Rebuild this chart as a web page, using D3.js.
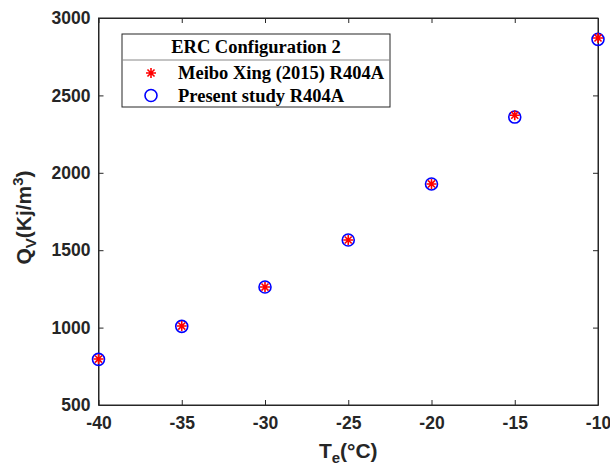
<!DOCTYPE html>
<html>
<head>
<meta charset="utf-8">
<script src="https://cdn.jsdelivr.net/npm/d3@7"></script>
<style>
  html, body { margin: 0; padding: 0; background: #fff; }
  svg { display: block; }
  .tick text { font-family: "Liberation Sans", Arial, sans-serif; font-weight: bold; font-size: 17.5px; fill: #262626; }
</style>
</head>
<body>
<div id="chart"></div>
<script>
// Evaporator temperature (°C)
const temps = [-40, -35, -30, -25, -20, -15, -10];
// Volumetric capacity, Meibo Xing (2015) R404A
const meiboQv = [797, 1010, 1262, 1566, 1928, 2372, 2871];
// Volumetric capacity, present study R404A
const presentQv = [795, 1008, 1262, 1566, 1928, 2360, 2862];

const xTicks = [-40, -35, -30, -25, -20, -15, -10];
const yTicks = [500, 1000, 1500, 2000, 2500, 3000];

const width = 610, height = 465;
const margin = { top: 18, right: 12, bottom: 60, left: 98.5 };
const innerW = width - margin.left - margin.right;
const innerH = height - margin.top - margin.bottom;

const svg = d3.select("#chart").append("svg")
    .attr("width", width)
    .attr("height", height);

const g = svg.append("g")
    .attr("transform", `translate(${margin.left},${margin.top})`);

const x = d3.scaleLinear().domain([-40, -10]).range([0, innerW]);
const y = d3.scaleLinear().domain([500, 3000]).range([innerH, 0]);

const axisColor = "#262626";
const fmt = d => String(d);   // plain hyphen minus, no thousands separator

// bottom and left axes with inward ticks
const xAxis = g.append("g")
    .attr("transform", `translate(0,${innerH})`)
    .call(d3.axisBottom(x).tickValues(xTicks).tickFormat(fmt).tickSizeInner(-5).tickSizeOuter(0).tickPadding(12));
const yAxis = g.append("g")
    .call(d3.axisLeft(y).tickValues(yTicks).tickFormat(fmt).tickSizeInner(-5).tickSizeOuter(0).tickPadding(8));
// top and right mirrored ticks
const xTop = g.append("g")
    .call(d3.axisTop(x).tickValues(xTicks).tickSizeInner(-5).tickSizeOuter(0).tickFormat(""));
const yRight = g.append("g")
    .attr("transform", `translate(${innerW},0)`)
    .call(d3.axisRight(y).tickValues(yTicks).tickSizeInner(-5).tickSizeOuter(0).tickFormat(""));

[xAxis, yAxis, xTop, yRight].forEach(a => {
    a.selectAll("path, line").attr("stroke", axisColor).attr("stroke-width", 1);
});
xAxis.selectAll(".tick text").attr("dy", "0.71em");

// box
g.append("rect")
    .attr("width", innerW).attr("height", innerH)
    .attr("fill", "none").attr("stroke", axisColor).attr("stroke-width", 1);

// asterisk marker path
function starPath(cx, cy, r) {
    const d = r * Math.SQRT1_2;
    return `M${cx - r},${cy}L${cx + r},${cy}M${cx},${cy - r}L${cx},${cy + r}` +
        `M${cx - d},${cy - d}L${cx + d},${cy + d}M${cx - d},${cy + d}L${cx + d},${cy - d}`;
}

const pts = temps.map((t, i) => ({ t, meibo: meiboQv[i], present: presentQv[i] }));

g.append("g").selectAll("circle")
    .data(pts).join("circle")
    .attr("cx", d => x(d.t))
    .attr("cy", d => y(d.present))
    .attr("r", 6)
    .attr("fill", "none")
    .attr("stroke", "#0000ff")
    .attr("stroke-width", 1.6);

g.append("g").selectAll("path")
    .data(pts).join("path")
    .attr("d", d => starPath(x(d.t), y(d.meibo), 5))
    .attr("stroke", "#ff0000")
    .attr("stroke-width", 1.6)
    .attr("fill", "none");

// axis titles
const labelFont = '"Liberation Sans", Arial, sans-serif';
const xLabel = svg.append("text")
    .attr("x", margin.left + innerW / 2)
    .attr("y", 458)
    .attr("text-anchor", "middle")
    .attr("font-family", labelFont).attr("font-weight", "bold").attr("font-size", 21)
    .attr("fill", axisColor);
xLabel.append("tspan").text("T");
xLabel.append("tspan").attr("font-size", 15).attr("dy", 5).text("e");
xLabel.append("tspan").attr("dy", -5).text("(°C)");

const yLabel = svg.append("text")
    .attr("transform", `translate(31,${margin.top + innerH / 2 + 6}) rotate(-90)`)
    .attr("text-anchor", "middle")
    .attr("font-family", labelFont).attr("font-weight", "bold").attr("font-size", 21)
    .attr("fill", axisColor);
yLabel.append("tspan").text("Q");
yLabel.append("tspan").attr("font-size", 15).attr("dy", 5).text("V");
yLabel.append("tspan").attr("dy", -5).text("(Kj/m");
yLabel.append("tspan").attr("font-size", 15).attr("dy", -8).text("3");
yLabel.append("tspan").attr("dy", 8).text(")");

// legend
const legendTitle = "ERC Configuration 2";
const legendItems = ["Meibo Xing (2015) R404A", "Present study R404A"];
const lg = svg.append("g");
const lx = 122, ly = 34, lw = 268, lh = 73, sepY = 60;
lg.append("rect")
    .attr("x", lx).attr("y", ly).attr("width", lw).attr("height", lh)
    .attr("fill", "#fff").attr("stroke", axisColor).attr("stroke-width", 1);
lg.append("line")
    .attr("x1", lx).attr("x2", lx + lw).attr("y1", sepY).attr("y2", sepY)
    .attr("stroke", "#888").attr("stroke-width", 1);
const serif = '"Liberation Serif", "Times New Roman", serif';
lg.append("text")
    .attr("x", 256).attr("y", 53)
    .attr("text-anchor", "middle")
    .attr("font-family", serif).attr("font-weight", "bold").attr("font-size", 18.5)
    .attr("fill", "#000").text(legendTitle);
lg.append("path").attr("d", starPath(151, 73, 5))
    .attr("stroke", "#ff0000").attr("stroke-width", 1.6);
lg.append("circle").attr("cx", 151).attr("cy", 95.5).attr("r", 6)
    .attr("fill", "none").attr("stroke", "#0000ff").attr("stroke-width", 1.6);
legendItems.forEach((txt, i) => {
    lg.append("text")
        .attr("x", 178).attr("y", 79 + i * 22.5)
        .attr("font-family", serif).attr("font-weight", "bold").attr("font-size", 18.5)
        .attr("fill", "#000").text(txt);
});
</script>
</body>
</html>
